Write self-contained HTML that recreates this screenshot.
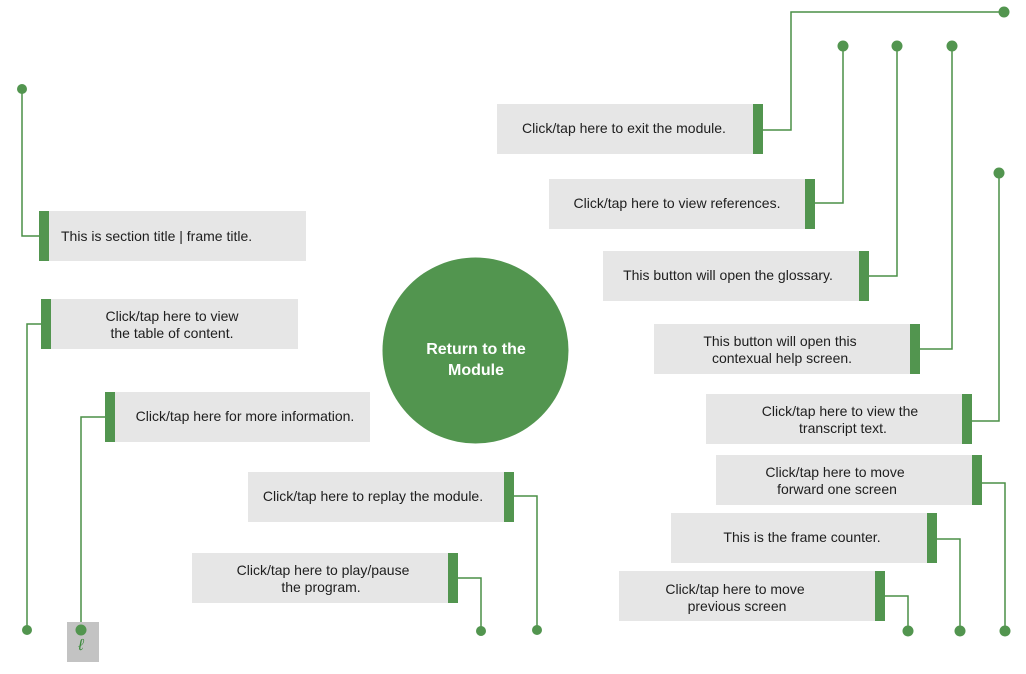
<!DOCTYPE html>
<html><head><meta charset="utf-8"><style>
html,body{margin:0;padding:0;background:#fff;}
svg{display:block;font-family:"Liberation Sans",Arial,sans-serif;}
.t{font-size:14px;fill:#1e1e1e;text-anchor:middle;}
.l{fill:none;stroke:#4a8f47;stroke-width:1.5;}
.g{fill:#e6e6e6;}
.b{fill:#52954f;}
</style></head><body>
<svg width="1026" height="674" viewBox="0 0 1026 674">
<polyline class="l" points="39,236 22,236 22,89"/>
<polyline class="l" points="41,324 27,324 27,630"/>
<polyline class="l" points="105,417 81,417 81,630"/>
<polyline class="l" points="514,496 537,496 537,630"/>
<polyline class="l" points="458,578 481,578 481,631"/>
<polyline class="l" points="763,130 791,130 791,12 1004,12"/>
<polyline class="l" points="815,203 843,203 843,46"/>
<polyline class="l" points="869,276 897,276 897,46"/>
<polyline class="l" points="920,349 952,349 952,46"/>
<polyline class="l" points="972,421 999,421 999,173"/>
<polyline class="l" points="982,483 1005,483 1005,631"/>
<polyline class="l" points="937,539 960,539 960,631"/>
<polyline class="l" points="885,596 908,596 908,631"/>
<rect x="67" y="622" width="32" height="40" fill="#c3c3c3"/>
<text x="81" y="650" font-size="16" fill="#3a8a3a" text-anchor="middle" font-style="italic">ℓ</text>
<g class="b">
<circle cx="22" cy="89" r="5"/><circle cx="27" cy="630" r="5"/><circle cx="81" cy="630" r="5.5"/>
<circle cx="537" cy="630" r="5"/><circle cx="481" cy="631" r="5"/>
<circle cx="1004" cy="12" r="5.5"/><circle cx="843" cy="46" r="5.5"/><circle cx="897" cy="46" r="5.5"/><circle cx="952" cy="46" r="5.5"/>
<circle cx="999" cy="173" r="5.5"/><circle cx="1005" cy="631" r="5.5"/><circle cx="960" cy="631" r="5.5"/><circle cx="908" cy="631" r="5.5"/>
</g>
<rect class="g" x="49" y="211" width="257" height="50"/><rect class="b" x="39" y="211" width="10" height="50"/>
<text class="t" x="61" y="241" style="text-anchor:start">This is section title | frame title.</text>
<rect class="g" x="51" y="299" width="247" height="50"/><rect class="b" x="41" y="299" width="10" height="50"/>
<text class="t" x="172" y="321">Click/tap here to view</text><text class="t" x="172" y="338">the table of content.</text>
<rect class="g" x="115" y="392" width="255" height="50"/><rect class="b" x="105" y="392" width="10" height="50"/>
<text class="t" x="245" y="421">Click/tap here for more information.</text>
<rect class="g" x="248" y="472" width="256" height="50"/><rect class="b" x="504" y="472" width="10" height="50"/>
<text class="t" x="373" y="501">Click/tap here to replay the module.</text>
<rect class="g" x="192" y="553" width="256" height="50"/><rect class="b" x="448" y="553" width="10" height="50"/>
<text class="t" x="323" y="575">Click/tap here to play/pause</text><text class="t" x="321" y="592">the program.</text>
<rect class="g" x="497" y="104" width="256" height="50"/><rect class="b" x="753" y="104" width="10" height="50"/>
<text class="t" x="624" y="133">Click/tap here to exit the module.</text>
<rect class="g" x="549" y="179" width="256" height="50"/><rect class="b" x="805" y="179" width="10" height="50"/>
<text class="t" x="677" y="208">Click/tap here to view references.</text>
<rect class="g" x="603" y="251" width="256" height="50"/><rect class="b" x="859" y="251" width="10" height="50"/>
<text class="t" x="728" y="280">This button will open the glossary.</text>
<rect class="g" x="654" y="324" width="256" height="50"/><rect class="b" x="910" y="324" width="10" height="50"/>
<text class="t" x="780" y="346">This button will open this</text><text class="t" x="782" y="363">contexual help screen.</text>
<rect class="g" x="706" y="394" width="256" height="50"/><rect class="b" x="962" y="394" width="10" height="50"/>
<text class="t" x="840" y="416">Click/tap here to view the</text><text class="t" x="843" y="433">transcript text.</text>
<rect class="g" x="716" y="455" width="256" height="50"/><rect class="b" x="972" y="455" width="10" height="50"/>
<text class="t" x="835" y="477">Click/tap here to move</text><text class="t" x="837" y="494">forward one screen</text>
<rect class="g" x="671" y="513" width="256" height="50"/><rect class="b" x="927" y="513" width="10" height="50"/>
<text class="t" x="802" y="542">This is the frame counter.</text>
<rect class="g" x="619" y="571" width="256" height="50"/><rect class="b" x="875" y="571" width="10" height="50"/>
<text class="t" x="735" y="594">Click/tap here to move</text><text class="t" x="737" y="611">previous screen</text>
<circle cx="475.5" cy="350.5" r="93" class="b"/>
<text x="476" y="354" font-size="16" font-weight="bold" fill="#fff" text-anchor="middle">Return to the</text>
<text x="476" y="375" font-size="16" font-weight="bold" fill="#fff" text-anchor="middle">Module</text>
</svg>
</body></html>
